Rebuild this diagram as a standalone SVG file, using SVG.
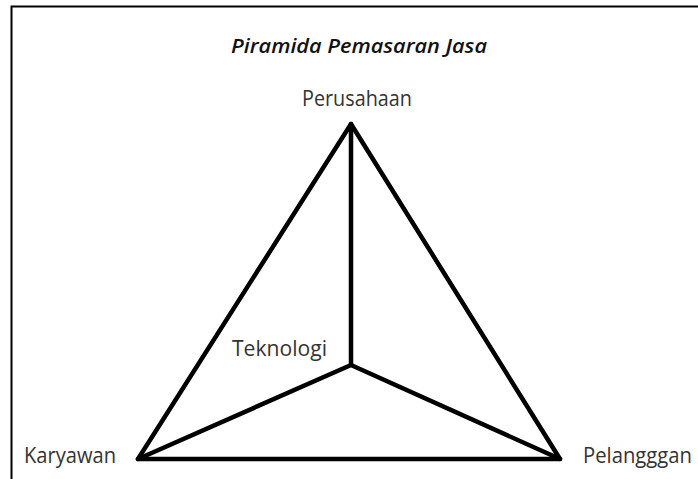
<svg xmlns="http://www.w3.org/2000/svg" width="698" height="479" viewBox="0 0 698 479">
<style>
.lbl{font-family:"Open Sans","DejaVu Sans",sans-serif;font-size:21px;fill:#333;}
.title{font-family:"Open Sans","DejaVu Sans",sans-serif;font-size:19px;font-weight:600;font-style:italic;fill:#111;}
.edge{stroke:#000;stroke-width:4.5;stroke-linecap:round;stroke-linejoin:round;fill:none;}
</style>
<rect x="0" y="0" width="698" height="479" fill="#fff"/>
<path d="M11.5 479 V6.5 H698" stroke="#000" stroke-width="2" fill="none"/>
<text class="title" x="231" y="53" textLength="256" lengthAdjust="spacingAndGlyphs">Piramida Pemasaran Jasa</text>
<g id="connectors">
<path class="edge" d="M351 124 L138 459 L560 459 Z"/>
<path class="edge" d="M351 124 L351 365"/>
<path class="edge" d="M138 459 L351 365 L560 459"/>
</g>
<g id="perusahaan"><text class="lbl" x="302" y="106" textLength="110" lengthAdjust="spacingAndGlyphs">Perusahaan</text></g>
<g id="karyawan"><text class="lbl" x="24" y="463" textLength="92" lengthAdjust="spacingAndGlyphs">Karyawan</text></g>
<g id="pelanggan"><text class="lbl" x="583" y="463" textLength="109" lengthAdjust="spacingAndGlyphs">Pelangggan</text></g>
<g id="teknologi"><text class="lbl" x="232" y="356" textLength="95" lengthAdjust="spacingAndGlyphs">Teknologi</text></g>
</svg>
